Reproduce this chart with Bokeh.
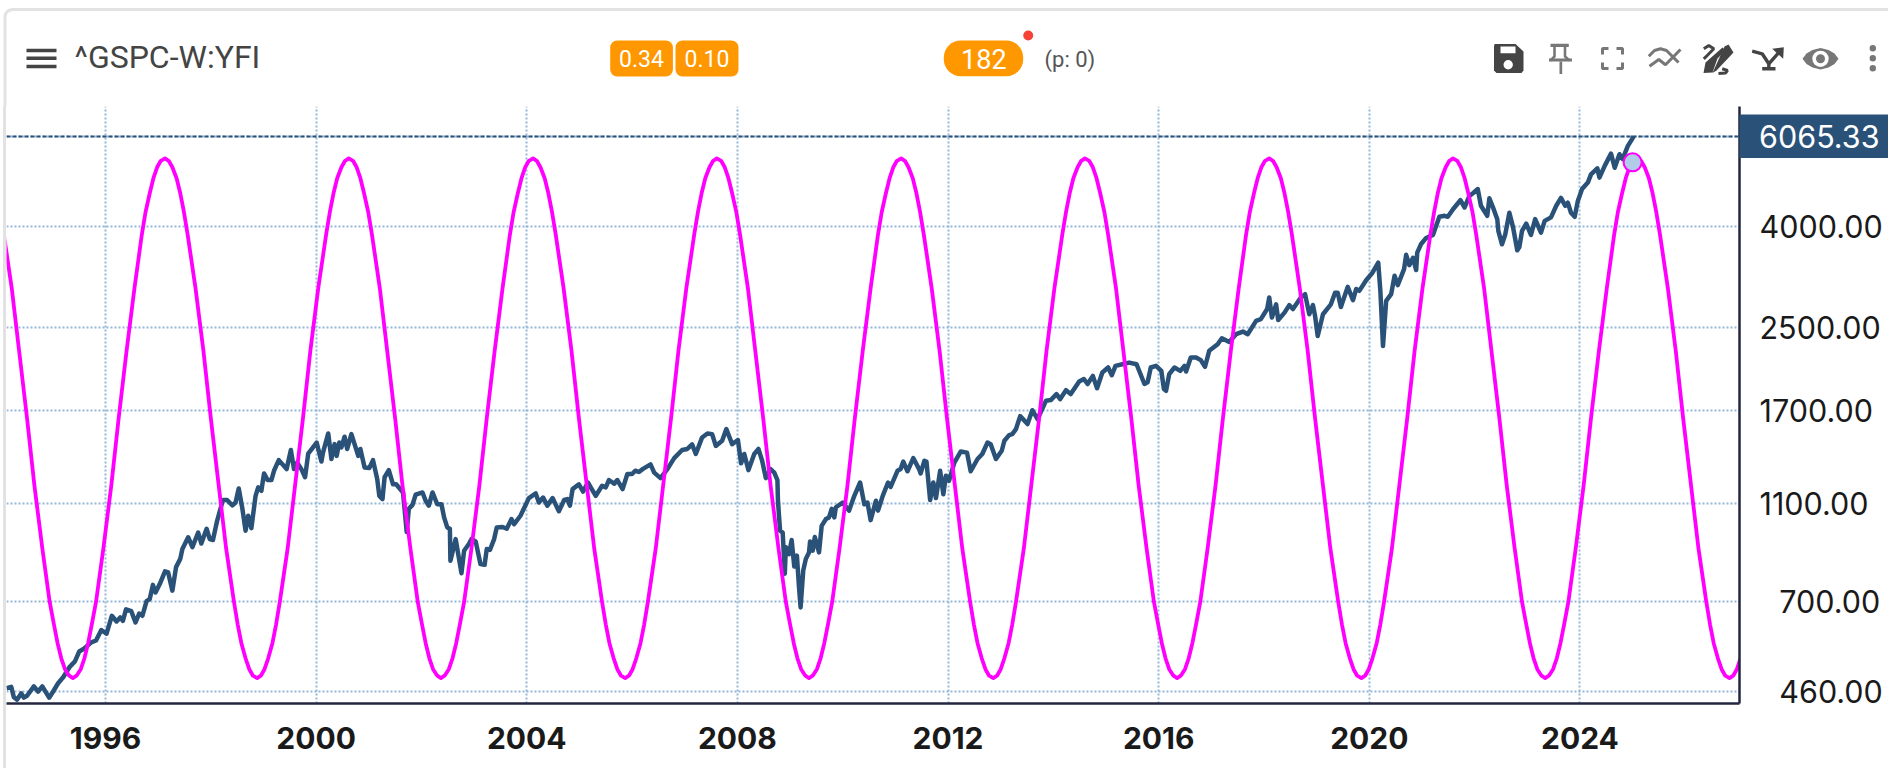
from bokeh.plotting import figure
from bokeh.layouts import column
from bokeh.models import Range1d, FixedTicker, Span, LinearScale
from bokeh.core.properties import value
from bokeh.embed import file_html
from bokeh.resources import INLINE

price_year = [
    1994.12, 1994.21, 1994.26, 1994.32, 1994.40, 1994.45, 1994.51, 1994.64, 1994.72, 1994.80, 1994.93, 1995.00,
    1995.10, 1995.20, 1995.32, 1995.42, 1995.50, 1995.59, 1995.73, 1995.82, 1995.92, 1996.02, 1996.12, 1996.21,
    1996.28, 1996.33, 1996.39, 1996.49, 1996.57, 1996.64, 1996.70, 1996.78, 1996.84, 1996.90, 1996.95, 1997.03,
    1997.13, 1997.19, 1997.27, 1997.34, 1997.42, 1997.46, 1997.57, 1997.65, 1997.76, 1997.82, 1997.92, 1997.98,
    1998.04, 1998.12, 1998.23, 1998.31, 1998.41, 1998.47, 1998.53, 1998.60, 1998.66, 1998.71, 1998.77, 1998.85,
    1998.90, 1998.96, 1999.01, 1999.08, 1999.15, 1999.20, 1999.29, 1999.44, 1999.52, 1999.58, 1999.64, 1999.72,
    1999.79, 1999.85, 2000.01, 2000.10, 2000.13, 2000.23, 2000.29, 2000.35, 2000.39, 2000.44, 2000.48, 2000.54,
    2000.59, 2000.67, 2000.80, 2000.84, 2000.92, 2001.01, 2001.08, 2001.16, 2001.20, 2001.26, 2001.30, 2001.38,
    2001.46, 2001.52, 2001.65, 2001.72, 2001.76, 2001.83, 2001.89, 2002.02, 2002.08, 2002.14, 2002.21, 2002.30,
    2002.38, 2002.43, 2002.49, 2002.54, 2002.55, 2002.65, 2002.76, 2002.81, 2002.90, 2002.95, 2003.03, 2003.12,
    2003.20, 2003.24, 2003.30, 2003.38, 2003.43, 2003.54, 2003.62, 2003.71, 2003.76, 2003.88, 2004.04, 2004.17,
    2004.23, 2004.31, 2004.39, 2004.49, 2004.61, 2004.71, 2004.77, 2004.82, 2004.87, 2004.99, 2005.07, 2005.16,
    2005.31, 2005.43, 2005.50, 2005.56, 2005.66, 2005.72, 2005.82, 2005.91, 2006.00, 2006.06, 2006.13, 2006.20,
    2006.35, 2006.42, 2006.54, 2006.67, 2006.80, 2006.95, 2007.05, 2007.14, 2007.21, 2007.33, 2007.43, 2007.52,
    2007.59, 2007.71, 2007.79, 2007.90, 2008.01, 2008.07, 2008.13, 2008.21, 2008.32, 2008.40, 2008.47, 2008.54,
    2008.63, 2008.70, 2008.76, 2008.77, 2008.81, 2008.86, 2008.90, 2008.92, 2008.98, 2009.03, 2009.08, 2009.13,
    2009.17, 2009.20, 2009.25, 2009.30, 2009.36, 2009.38, 2009.43, 2009.47, 2009.55, 2009.60, 2009.68, 2009.74,
    2009.79, 2009.84, 2009.87, 2010.00, 2010.12, 2010.22, 2010.33, 2010.41, 2010.47, 2010.53, 2010.63, 2010.67,
    2010.76, 2010.86, 2010.91, 2011.04, 2011.10, 2011.15, 2011.23, 2011.34, 2011.45, 2011.48, 2011.55, 2011.59,
    2011.66, 2011.72, 2011.77, 2011.85, 2011.91, 2011.96, 2012.02, 2012.12, 2012.24, 2012.36, 2012.43, 2012.56,
    2012.65, 2012.75, 2012.81, 2012.91, 2013.02, 2013.07, 2013.16, 2013.22, 2013.29, 2013.37, 2013.51, 2013.60,
    2013.70, 2013.86, 2013.95, 2014.06, 2014.13, 2014.24, 2014.33, 2014.49, 2014.58, 2014.65, 2014.75, 2014.83,
    2014.93, 2015.04, 2015.11, 2015.18, 2015.31, 2015.44, 2015.58, 2015.73, 2015.79, 2015.85, 2015.95, 2016.05,
    2016.10, 2016.14, 2016.20, 2016.30, 2016.41, 2016.49, 2016.52, 2016.61, 2016.71, 2016.80, 2016.88, 2016.96,
    2017.12, 2017.20, 2017.34, 2017.47, 2017.60, 2017.69, 2017.85, 2017.94, 2018.06, 2018.10, 2018.15, 2018.23,
    2018.27, 2018.39, 2018.48, 2018.55, 2018.70, 2018.78, 2018.86, 2018.93, 2018.97, 2019.02, 2019.12, 2019.27,
    2019.35, 2019.40, 2019.46, 2019.59, 2019.69, 2019.75, 2019.81, 2019.94, 2020.06, 2020.17, 2020.21, 2020.26,
    2020.32, 2020.415, 2020.48, 2020.54, 2020.66, 2020.70, 2020.76, 2020.83, 2020.89, 2020.91, 2020.98, 2021.08,
    2021.21, 2021.33, 2021.43, 2021.49, 2021.59, 2021.73, 2021.81, 2021.90, 2021.98, 2022.06, 2022.12, 2022.24,
    2022.28, 2022.35, 2022.43, 2022.45, 2022.52, 2022.58, 2022.66, 2022.73, 2022.81, 2022.85, 2022.90, 2022.98,
    2023.07, 2023.15, 2023.26, 2023.33, 2023.45, 2023.55, 2023.64, 2023.72, 2023.77, 2023.83, 2023.90, 2023.96,
    2024.04, 2024.15, 2024.21, 2024.33, 2024.37, 2024.47, 2024.59, 2024.66, 2024.75, 2024.81, 2024.91, 2024.97,
    2025.02,
]
price_close = [
    467, 470, 448, 443, 456, 447, 451, 471, 460, 471, 447, 459,
    478, 492, 516, 529, 554, 561, 578, 583, 612, 602, 654, 637,
    649, 639, 674, 668, 634, 661, 654, 700, 707, 755, 729, 758,
    804, 800, 735, 820, 852, 892, 942, 900, 963, 915, 980, 934,
    930, 1017, 1120, 1120, 1092, 1107, 1182, 1075, 971, 1041, 983, 1142,
    1188, 1169, 1267, 1229, 1229, 1283, 1348, 1293, 1413, 1293, 1333, 1293,
    1245, 1390, 1463, 1339, 1396, 1526, 1355, 1452, 1375, 1463, 1430, 1503,
    1420, 1521, 1375, 1420, 1303, 1300, 1348, 1235, 1142, 1125, 1245, 1287,
    1205, 1205, 1160, 965, 1075, 1095, 1148, 1160, 1116, 1091, 1160, 1098,
    1098, 1033, 986, 980, 845, 934, 797, 885, 913, 934, 924, 832,
    829, 892, 888, 934, 986, 988, 980, 1025, 1001, 1041, 1130, 1155,
    1107, 1133, 1091, 1130, 1063, 1120, 1125, 1091, 1178, 1205, 1165, 1215,
    1142, 1197, 1188, 1229, 1208, 1229, 1178, 1264, 1264, 1283, 1276, 1293,
    1322, 1272, 1240, 1293, 1361, 1413, 1420, 1450, 1387, 1498, 1526, 1521,
    1440, 1475, 1557, 1452, 1480, 1328, 1387, 1287, 1387, 1420, 1344, 1240,
    1293, 1272, 1229, 1116, 971, 963, 795, 899, 871, 930, 822, 865,
    747, 680, 807, 852, 878, 924, 885, 943, 878, 993, 1025, 1033,
    1075, 1033, 1083, 1107, 1066, 1142, 1215, 1098, 1107, 1020, 1116, 1066,
    1142, 1215, 1190, 1283, 1293, 1339, 1280, 1361, 1293, 1267, 1344, 1339,
    1120, 1215, 1130, 1283, 1150, 1254, 1225, 1333, 1403, 1396, 1280, 1355,
    1387, 1463, 1452, 1355, 1408, 1475, 1514, 1521, 1557, 1654, 1594, 1700,
    1631, 1776, 1782, 1832, 1790, 1866, 1832, 1943, 1965, 1920, 1994, 1883,
    2025, 2073, 2000, 2089, 2105, 2121, 2105, 1920, 1935, 2073, 2089, 2041,
    1875, 1860, 2010, 2073, 2041, 2089, 2035, 2172, 2172, 2145, 2080, 2240,
    2310, 2375, 2335, 2420, 2450, 2420, 2575, 2595, 2720, 2870, 2615, 2780,
    2585, 2675, 2770, 2720, 2870, 2915, 2655, 2770, 2635, 2400, 2655, 2780,
    2935, 2935, 2745, 3015, 2835, 2985, 2960, 3110, 3220, 3375, 2960, 2290,
    2825, 2915, 3175, 3040, 3275, 3500, 3335, 3450, 3260, 3535, 3675, 3785,
    3840, 4175, 4195, 4175, 4325, 4510, 4360, 4600, 4670, 4750, 4395, 4195,
    4550, 4360, 4130, 3911, 3675, 3840, 4255, 3975, 3575, 3630, 3911, 4045,
    3840, 4130, 3880, 4097, 4165, 4395, 4560, 4395, 4460, 4255, 4175, 4496,
    4750, 4895, 5085, 5230, 5010, 5290, 5600, 5245, 5585, 5460, 5805, 5941,
    6065.33,
]

cycle_year = [
    1994.07, 1994.22, 1994.36, 1994.51, 1994.65, 1994.80, 1994.94, 1995.02, 1995.09, 1995.16, 1995.23, 1995.31,
    1995.38, 1995.45, 1995.53, 1995.60, 1995.67, 1995.74, 1995.82, 1995.96, 1996.11, 1996.25, 1996.40, 1996.55,
    1996.69, 1996.76, 1996.84, 1996.91, 1996.98, 1997.05,
    1997.13, 1997.20, 1997.27, 1997.35, 1997.42, 1997.49, 1997.56, 1997.71, 1997.86, 1998.00, 1998.15, 1998.29,
    1998.44, 1998.51, 1998.58, 1998.66, 1998.73, 1998.80, 1998.88, 1998.95, 1999.02, 1999.09, 1999.17, 1999.24,
    1999.31, 1999.46, 1999.60, 1999.75, 1999.89, 2000.04, 2000.19, 2000.26, 2000.33, 2000.40, 2000.48, 2000.55,
    2000.62, 2000.70, 2000.77, 2000.84, 2000.91, 2000.99, 2001.06, 2001.21, 2001.35, 2001.50, 2001.64, 2001.79,
    2001.93, 2002.01, 2002.08, 2002.15, 2002.22, 2002.30, 2002.37, 2002.44, 2002.52, 2002.59, 2002.66, 2002.73,
    2002.81, 2002.95, 2003.10, 2003.24, 2003.39, 2003.54, 2003.68, 2003.75, 2003.83, 2003.90, 2003.97, 2004.04,
    2004.12, 2004.19, 2004.26, 2004.34, 2004.41, 2004.48, 2004.55, 2004.70, 2004.85, 2004.99, 2005.14, 2005.28,
    2005.43, 2005.50, 2005.57, 2005.65, 2005.72, 2005.79, 2005.87, 2005.94, 2006.01, 2006.08, 2006.16, 2006.23,
    2006.30, 2006.45, 2006.59, 2006.74, 2006.88, 2007.03, 2007.18, 2007.25, 2007.32, 2007.39, 2007.47, 2007.54,
    2007.61, 2007.69, 2007.76, 2007.83, 2007.90, 2007.98, 2008.05, 2008.20, 2008.34, 2008.49, 2008.63, 2008.78,
    2008.92, 2009.00, 2009.07, 2009.14, 2009.21, 2009.29, 2009.36, 2009.43, 2009.51, 2009.58, 2009.65, 2009.72,
    2009.80, 2009.94, 2010.09, 2010.23, 2010.38, 2010.53, 2010.67, 2010.74, 2010.82, 2010.89, 2010.96, 2011.03,
    2011.11, 2011.18, 2011.25, 2011.33, 2011.40, 2011.47, 2011.54, 2011.69, 2011.84, 2011.98, 2012.13, 2012.27,
    2012.42, 2012.49, 2012.56, 2012.64, 2012.71, 2012.78, 2012.86, 2012.93, 2013.00, 2013.07, 2013.15, 2013.22,
    2013.29, 2013.44, 2013.58, 2013.73, 2013.87, 2014.02, 2014.17, 2014.24, 2014.31, 2014.38, 2014.46, 2014.53,
    2014.60, 2014.68, 2014.75, 2014.82, 2014.89, 2014.97, 2015.04, 2015.19, 2015.33, 2015.48, 2015.62, 2015.77,
    2015.91, 2015.99, 2016.06, 2016.13, 2016.20, 2016.28, 2016.35, 2016.42, 2016.50, 2016.57, 2016.64, 2016.71,
    2016.79, 2016.93, 2017.08, 2017.22, 2017.37, 2017.52, 2017.66, 2017.73, 2017.81, 2017.88, 2017.95, 2018.02,
    2018.10, 2018.17, 2018.24, 2018.32, 2018.39, 2018.46, 2018.53, 2018.68, 2018.83, 2018.97, 2019.12, 2019.26,
    2019.41, 2019.48, 2019.55, 2019.63, 2019.70, 2019.77, 2019.85, 2019.92, 2019.99, 2020.06, 2020.14, 2020.21,
    2020.28, 2020.43, 2020.57, 2020.72, 2020.86, 2021.01, 2021.16, 2021.23, 2021.30, 2021.37, 2021.45, 2021.52,
    2021.59, 2021.67, 2021.74, 2021.81, 2021.88, 2021.96, 2022.03, 2022.18, 2022.32, 2022.47, 2022.61, 2022.76,
    2022.90, 2022.98, 2023.05, 2023.12, 2023.19, 2023.27, 2023.34, 2023.41, 2023.49, 2023.56, 2023.63, 2023.70,
    2023.78, 2023.92, 2024.07, 2024.21, 2024.36, 2024.51, 2024.65, 2024.72, 2024.80, 2024.87, 2024.94, 2025.01,
    2025.09, 2025.16, 2025.23, 2025.31, 2025.38, 2025.45, 2025.52, 2025.67, 2025.82, 2025.96, 2026.11, 2026.25,
    2026.40, 2026.47, 2026.54, 2026.62, 2026.69, 2026.76, 2026.84, 2026.91, 2026.98, 2027.05,
]
cycle_value = [
    .707, .5, .259, 0, -.259, -.5, -.707, -.793, -.866, -.924, -.966, -.991,
    -1, -.991, -.966, -.924, -.866, -.793, -.707, -.5, -.259, 0, .259, .5,
    .707, .793, .866, .924, .966, .991,
    1, .991, .966, .924, .866, .793, .707, .5, .259, 0, -.259, -.5,
    -.707, -.793, -.866, -.924, -.966, -.991, -1, -.991, -.966, -.924, -.866, -.793,
    -.707, -.5, -.259, 0, .259, .5, .707, .793, .866, .924, .966, .991,
    1, .991, .966, .924, .866, .793, .707, .5, .259, 0, -.259, -.5,
    -.707, -.793, -.866, -.924, -.966, -.991, -1, -.991, -.966, -.924, -.866, -.793,
    -.707, -.5, -.259, 0, .259, .5, .707, .793, .866, .924, .966, .991,
    1, .991, .966, .924, .866, .793, .707, .5, .259, 0, -.259, -.5,
    -.707, -.793, -.866, -.924, -.966, -.991, -1, -.991, -.966, -.924, -.866, -.793,
    -.707, -.5, -.259, 0, .259, .5, .707, .793, .866, .924, .966, .991,
    1, .991, .966, .924, .866, .793, .707, .5, .259, 0, -.259, -.5,
    -.707, -.793, -.866, -.924, -.966, -.991, -1, -.991, -.966, -.924, -.866, -.793,
    -.707, -.5, -.259, 0, .259, .5, .707, .793, .866, .924, .966, .991,
    1, .991, .966, .924, .866, .793, .707, .5, .259, 0, -.259, -.5,
    -.707, -.793, -.866, -.924, -.966, -.991, -1, -.991, -.966, -.924, -.866, -.793,
    -.707, -.5, -.259, 0, .259, .5, .707, .793, .866, .924, .966, .991,
    1, .991, .966, .924, .866, .793, .707, .5, .259, 0, -.259, -.5,
    -.707, -.793, -.866, -.924, -.966, -.991, -1, -.991, -.966, -.924, -.866, -.793,
    -.707, -.5, -.259, 0, .259, .5, .707, .793, .866, .924, .966, .991,
    1, .991, .966, .924, .866, .793, .707, .5, .259, 0, -.259, -.5,
    -.707, -.793, -.866, -.924, -.966, -.991, -1, -.991, -.966, -.924, -.866, -.793,
    -.707, -.5, -.259, 0, .259, .5, .707, .793, .866, .924, .966, .991,
    1, .991, .966, .924, .866, .793, .707, .5, .259, 0, -.259, -.5,
    -.707, -.793, -.866, -.924, -.966, -.991, -1, -.991, -.966, -.924, -.866, -.793,
    -.707, -.5, -.259, 0, .259, .5, .707, .793, .866, .924, .966, .991,
    1, .991, .966, .924, .866, .793, .707, .5, .259, 0, -.259, -.5,
    -.707, -.793, -.866, -.924, -.966, -.991, -1, -.991, -.966, -.924,
]
marker_year = [2025.0]
marker_value = [0.985]

year_ticks = [1996, 2000, 2004, 2008, 2012, 2016, 2020, 2024]
price_ticks = [460, 700, 1100, 1700, 2500, 4000]
last_price = 6065.33

BLUE = "#2A5279"
MAGENTA = "#FF00FF"
GRID = "#94B6D6"
AXIS = "#23263F"
CARD = "#E2E2E2"
ORANGE = "#FF9800"
DARK = "#444444"
GRAY = "#777777"

# ---------- header strip (page pixels) ----------
h = figure(width=1888, height=106, x_range=Range1d(0, 1888), y_range=Range1d(106, 0),
           x_axis_type=None, y_axis_type=None, toolbar_location=None, output_backend="svg",
           min_border=0, outline_line_color=None, frame_align=False)
h.grid.visible = False

h.line([4.5, 4.5, 5.5, 8, 12, 1888], [106, 16, 12.5, 10, 9, 9], line_color=CARD, line_width=3)
h.quad(left=[26, 26, 26], right=[56, 56, 56], top=[48.3, 56, 64.3], bottom=[51.7, 59.4, 67.7],
       fill_color=DARK, line_color=None)
h.text([74], [56], text=["^GSPC-W:YFI"], text_font=value("Roboto"), text_font_size="32px",
       text_color="#444444", text_baseline="middle")
h.quad(left=[609.7, 675], right=[672.4, 738], top=[40, 40], bottom=[76, 76],
       fill_color=ORANGE, line_color=None, border_radius=7)
h.quad(left=[943.3], right=[1022.7], top=[40], bottom=[75.7],
       fill_color=ORANGE, line_color=None, border_radius=17)
h.text([641, 706.5], [58, 58], text=["0.34", "0.10"], text_font=value("Roboto"), text_font_size="23px",
       text_color="white", text_baseline="middle", text_align="center")
h.text([983.3], [58.5], text=["182"], text_font=value("Roboto"), text_font_size="27px",
       text_color="white", text_baseline="middle", text_align="center")
h.circle([1027.7], [35], radius=5, fill_color="#F44336", line_color=None)
h.text([1044], [58.5], text=["(p: 0)"], text_font=value("Roboto"), text_font_size="22px",
       text_color="#555555", text_baseline="middle")

# save icon
h.patch([1494, 1515, 1523, 1523, 1521, 1496, 1493.5, 1493.5], [43.5, 43.5, 51, 70, 72.5, 72.5, 70, 46],
        fill_color=DARK, line_color=None)
h.quad(left=[1500], right=[1515], top=[46], bottom=[52.7], fill_color="white", line_color=None)
h.circle([1507.7], [64.3], radius=4.7, fill_color="white", line_color=None)
# pin
h.quad(left=[1550, 1548.5, 1559], right=[1568.3, 1571.5, 1561.7], top=[43.3, 58, 61], bottom=[46.5, 61, 73.5],
       fill_color=GRAY, line_color=None)
h.multi_line([[1554, 1554, 1550], [1564.5, 1564.5, 1569]], [[46, 56, 60], [46, 56, 60]],
             line_color=GRAY, line_width=2.6)
# fullscreen corners
h.multi_line([[1602, 1602, 1608], [1616, 1622, 1622], [1602, 1602, 1608], [1616, 1622, 1622]],
             [[54, 48, 48], [48, 48, 54], [62, 68, 68], [68, 68, 62]], line_color=GRAY, line_width=3)
# indicators
h.multi_line([[1648.3, 1654, 1660, 1666, 1678], [1649, 1658.3, 1665, 1680]],
             [[55.7, 50, 48.3, 50, 62], [65.7, 59, 64.3, 49]], line_color=GRAY, line_width=3)
# pencil
h.patch([1703, 1705, 1722, 1725, 1717, 1712], [72.5, 62, 47, 50, 58, 72], fill_color=DARK, line_color=None)
h.patch([1724, 1728, 1733, 1716, 1712], [46, 44, 52, 70, 72.5], fill_color=DARK, line_color=None)
h.multi_line([[1703.3, 1708.3, 1713.3, 1706.7, 1703.3], [1721.7, 1727, 1725, 1718]],
             [[48.3, 45, 48.3, 55, 58.3], [68.3, 70, 72.5, 73]], line_color=DARK, line_width=3)
# fork
h.multi_line([[1751.7, 1761.7, 1768.3, 1768.3], [1761.7, 1775], [1768.3, 1780]],
             [[50.7, 53.3, 63.3, 68.3], [68.3, 68.3], [63.3, 50]], line_color=DARK, line_width=3.4)
h.patch([1783.3, 1771.7, 1782.7], [46.7, 48.3, 58.3], fill_color=DARK, line_color=None)
# eye
h.patch([1802, 1806, 1812, 1820, 1828, 1834, 1838, 1834, 1828, 1820, 1812, 1806],
        [58.3, 53, 49.5, 47.6, 49.5, 53, 58.3, 63.6, 67, 69, 67, 63.6], fill_color=GRAY, line_color=None)
h.circle([1820], [58.3], radius=8.2, fill_color="white", line_color=None)
h.circle([1820], [58.3], radius=4.5, fill_color=GRAY, line_color=None)
# menu dots
h.circle([1872.3, 1872.3, 1872.3], [47.7, 57.7, 67.7], radius=3.2, fill_color=GRAY, line_color=None)

# ---------- chart ----------
p = figure(width=1882, height=662,
           x_range=Range1d(1994.12, 2027.03), y_range=Range1d(435.1, 6971),
           y_axis_type="log", y_axis_location="right",
           toolbar_location=None, output_backend="svg",
           min_border_left=0, min_border_top=0, min_border_right=149, min_border_bottom=65,
           outline_line_color=None, frame_align=False,
           styles={"margin-left": "3px", "border-left": "3px solid " + CARD})
p.extra_y_ranges = {"cycle": Range1d(-1.098, 1.2)}
p.extra_y_scales = {"cycle": LinearScale()}

grid_style = dict(grid_line_color=GRID, grid_line_width=2, grid_line_dash="2 2")
p.xgrid.ticker = FixedTicker(ticks=year_ticks)
p.ygrid.ticker = FixedTicker(ticks=price_ticks + [last_price])
for g in (p.xgrid, p.ygrid):
    for k, v in grid_style.items():
        setattr(g, k, v)

for ax in (p.xaxis[0], p.yaxis[0]):
    ax.axis_line_color = AXIS
    ax.axis_line_width = 2.5
    ax.major_tick_line_color = None
    ax.minor_tick_line_color = None
    ax.major_tick_in = 0
    ax.major_tick_out = 0
    ax.minor_tick_in = 0
    ax.minor_tick_out = 0
    ax.major_label_text_font = "Inter"
    ax.major_label_text_color = "#1A1A1A"

p.xaxis[0].ticker = FixedTicker(ticks=year_ticks)
p.xaxis[0].major_label_overrides = {y: str(y) for y in year_ticks}
p.xaxis[0].major_label_text_font_style = "bold"
p.xaxis[0].major_label_text_font_size = "30px"
p.xaxis[0].major_label_standoff = 23

p.yaxis[0].ticker = FixedTicker(ticks=price_ticks)
p.yaxis[0].major_label_overrides = {t: (f"{t:.2f}" if t >= 1000 else f"\u2007{t:.2f}") for t in price_ticks}
p.yaxis[0].major_label_text_font_size = "30.5px"
p.yaxis[0].major_label_standoff = 20

p.add_layout(Span(location=last_price, dimension="width", line_color=BLUE, line_width=2, line_dash="4 2"))

p.line(price_year, price_close, line_color=BLUE, line_width=4.5, line_join="round")
p.line(cycle_year, cycle_value, line_color=MAGENTA, line_width=3.8, line_join="round", y_range_name="cycle")
p.scatter(marker_year, marker_value, size=18, fill_color="#B0CCE8", line_color=MAGENTA, line_width=2,
          y_range_name="cycle")

# ---------- price tag, placed over the right axis ----------
tag = figure(width=149, height=44, x_range=Range1d(0, 149), y_range=Range1d(44, 0),
             x_axis_type=None, y_axis_type=None, toolbar_location=None, output_backend="svg",
             min_border=0, outline_line_color=None, frame_align=False,
             background_fill_color=BLUE, border_fill_color=BLUE,
             styles={"position": "absolute", "left": "1739px", "top": "114px"})
tag.grid.visible = False
tag.text([140], [22], text=[f"{last_price:.2f}"], text_font=value("Inter"), text_font_size="30.5px",
         text_color="white", text_align="right", text_baseline="middle")

page = column(h, p, tag, spacing=0)
open("out.html", "w").write(file_html(page, INLINE))
